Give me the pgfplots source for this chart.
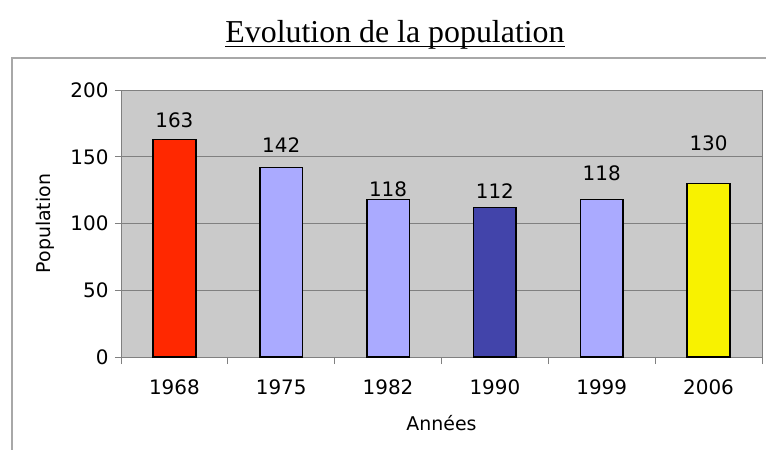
\documentclass[border=0pt]{standalone}
\usepackage{fontspec}
\setmainfont{DejaVu Sans}
\newfontfamily\titlefont{Liberation Serif}
\usepackage{pgfplots}
\pgfplotsset{compat=1.18}
\definecolor{bgc}{HTML}{CACACA}
\definecolor{framec}{HTML}{A8A8A8}
\definecolor{gridc}{HTML}{808080}
\definecolor{cred}{HTML}{FF2800}
\definecolor{clight}{HTML}{AAAAFF}
\definecolor{cdark}{HTML}{4244AA}
\definecolor{cyel}{HTML}{F8F200}
\begin{document}
\begin{tikzpicture}
\useasboundingbox (0,0) rectangle (766bp,-450bp);
\draw[color=framec, line width=1.2bp] (12bp,-450bp) -- (12bp,-58bp) -- (766bp,-58bp);
\node[font=\titlefont\fontsize{32}{34}\selectfont, anchor=base, inner sep=0pt] (t) at (395bp,-42bp) {Evolution de la population};
\draw[line width=1.4bp] ([yshift=-4.5bp]t.base west) -- ([yshift=-4.5bp]t.base east);
\begin{axis}[
  at={(121bp,-357bp)}, anchor=south west,
  scale only axis, width=641bp, height=267bp,
  xmin=-0.5, xmax=5.5, ymin=0, ymax=200,
  ybar, bar width=0.4, bar shift=0pt,
  axis background/.style={fill=bgc},
  axis line style={gridc, line width=0.8bp},
  ytick={0,50,...,200},
  xtick={0,...,5},
  xticklabels={1968,1975,1982,1990,1999,2006},
  minor xtick={-0.5,0.5,...,5.5},
  xtick pos=bottom, ytick pos=left,
  major x tick style=transparent,
  minor x tick style={gridc, line width=0.8bp},
  ytick style={gridc, line width=0.8bp},
  tick align=outside,
  major tick length=6bp, minor tick length=7bp,
  ymajorgrids, grid style={gridc, line width=0.8bp},
  /pgf/number format/assume math mode=true,
  ticklabel style={font=\fontsize{20}{22}\selectfont},
  xticklabel style={yshift=-13bp},
  yticklabel style={xshift=-3bp},
  xlabel={Années},
  ylabel={Population},
  label style={font=\fontsize{19}{21}\selectfont},
  xlabel style={at={(rel axis cs:0.5,0)}, anchor=center, yshift=-66bp},
  ylabel style={at={(rel axis cs:0,0.5)}, anchor=center, rotate=0, yshift=76bp},
  every axis plot/.append style={draw=black, line width=1.6bp},
  clip=false,
]
\addplot[fill=cred, draw=black] coordinates {(0,163)};
\addplot[fill=clight, draw=black] coordinates {(1,142) (2,118) (4,118)};
\addplot[fill=cdark, draw=black] coordinates {(3,112)};
\addplot[fill=cyel, draw=black] coordinates {(5,130)};
\begin{scope}[every node/.style={font=\fontsize{20}{22}\selectfont, anchor=center}]
\node at (axis cs:0,177.2) {163};
\node at (axis cs:1,158.8) {142};
\node at (axis cs:2,125.8) {118};
\node at (axis cs:3,124) {112};
\node at (axis cs:4,137.5) {118};
\node at (axis cs:5,160.3) {130};
\end{scope}
\end{axis}
\end{tikzpicture}
\end{document}
